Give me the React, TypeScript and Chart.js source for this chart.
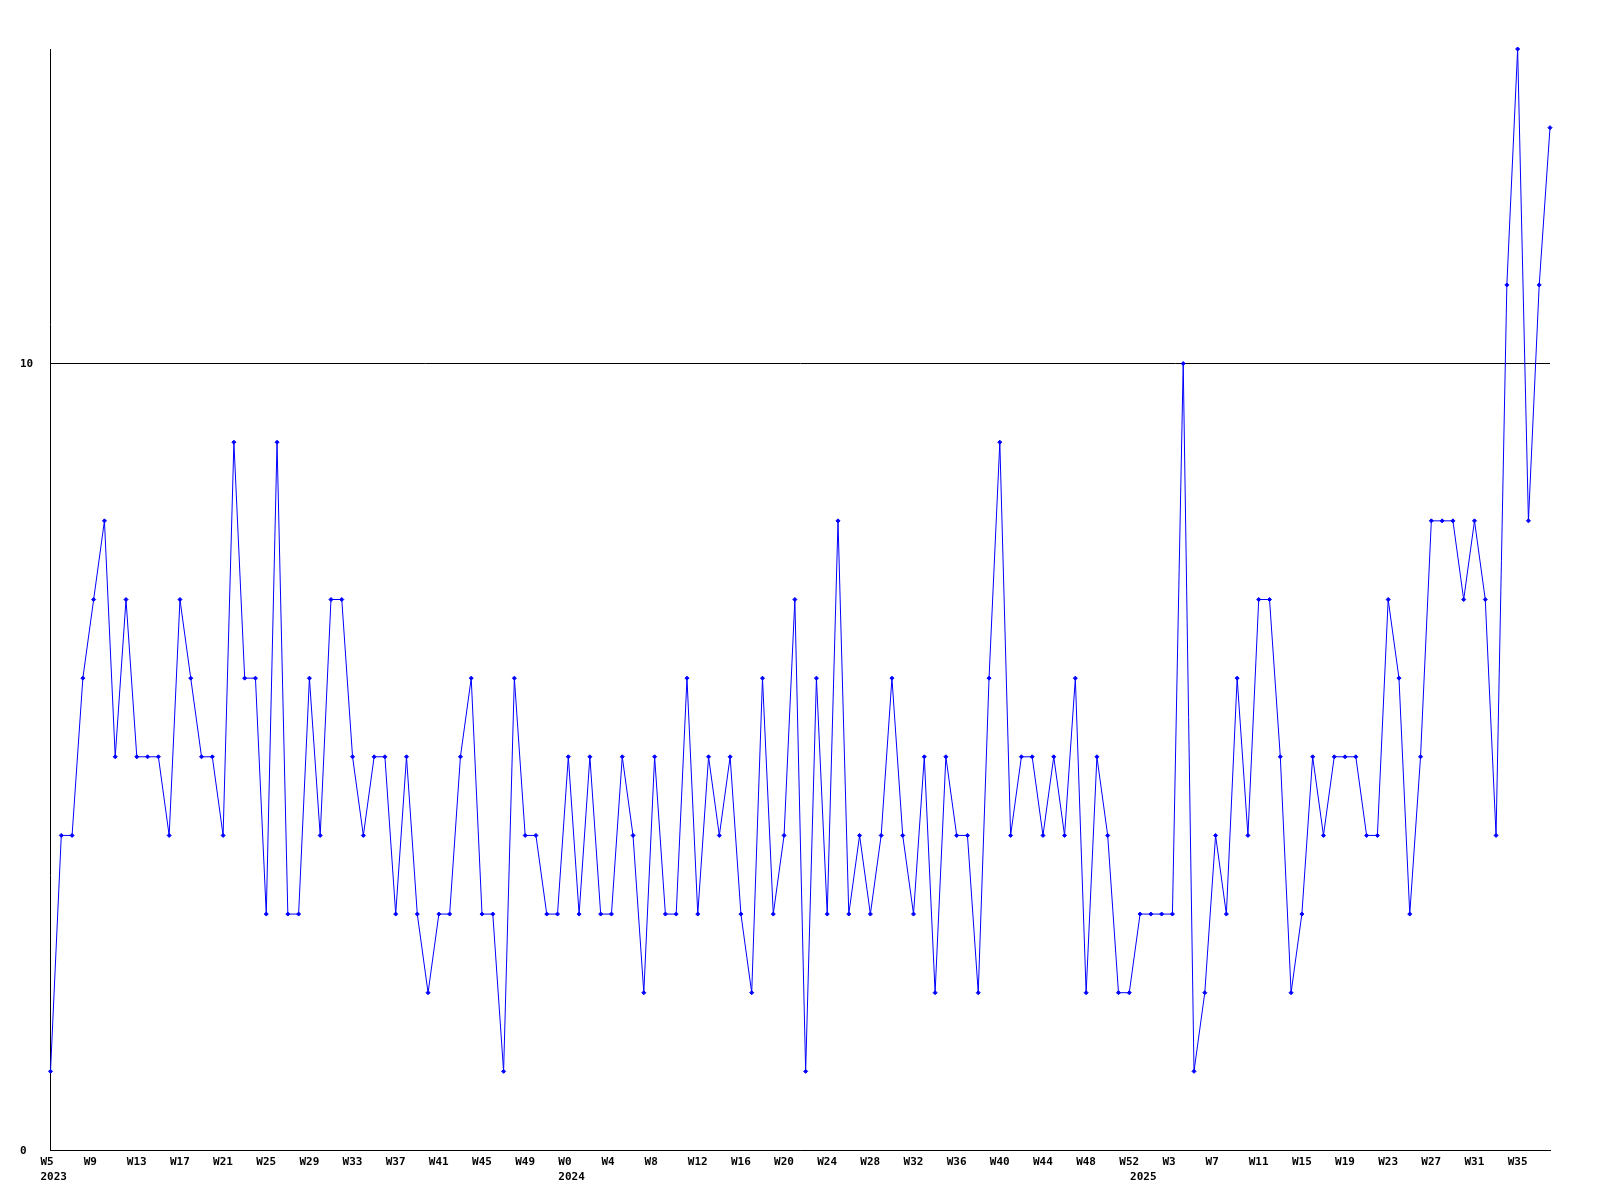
import React, { useEffect, useRef } from "react";
import { Chart, registerables } from "chart.js";

Chart.register(...registerables);

// Week ranges per year (week numbering as shown on the axis)
const years = [2023, 2024, 2025];
const firstWeeks = [5, 0, 0];
const lastWeeks = [52, 52, 38];

// Weekly values
const values2023 = [
  1, 4, 4, 6, 7, 8, 5, 7, 5, 5,
  5, 4, 7, 6, 5, 5, 4, 9, 6, 6,
  3, 9, 3, 3, 6, 4, 7, 7, 5, 4,
  5, 5, 3, 5, 3, 2, 3, 3, 5, 6,
  3, 3, 1, 6, 4, 4, 3, 3,
];
const values2024 = [
  5, 3,
  5, 3, 3, 5, 4, 2, 5, 3, 3, 6,
  3, 5, 4, 5, 3, 2, 6, 3, 4, 7,
  1, 6, 3, 8, 3, 4, 3, 4, 6, 4,
  3, 5, 2, 5, 4, 4, 2, 6, 9, 4,
  5, 5, 4, 5, 4, 6, 2, 5, 4, 2,
  2,
];
const values2025 = [
  3, 3, 3, 3, 10, 1, 2, 4, 3,
  6, 4, 7, 7, 5, 2, 3, 5, 4, 5,
  5, 5, 4, 4, 7, 6, 3, 5, 8, 8,
  8, 7, 8, 7, 4, 11, 14, 8, 11, 13,
];

const yTicks = [0, 10];
const yMin = 0;
const yMax = 14;
const labelEvery = 4;

const FONT = "'DejaVu Sans Mono', 'Liberation Mono', monospace";

export default function App() {
  const ref = useRef<HTMLCanvasElement | null>(null);

  useEffect(() => {
    if (!ref.current) return;

    const weekNums: number[] = [];
    const weekYears: number[] = [];
    years.forEach((y, k) => {
      for (let w = firstWeeks[k]; w <= lastWeeks[k]; w++) {
        weekNums.push(w);
        weekYears.push(y);
      }
    });
    const categories = weekNums.map((w) => `W${w}`);
    const values = [...values2023, ...values2024, ...values2025];

    // tick label text: every 4th week; year under the first week of each year
    const tickText: (string | string[])[] = categories.map((c, i) => {
      const showWeek = i % labelEvery === 0;
      const yearStart = i === 0 || weekYears[i] !== weekYears[i - 1];
      if (showWeek && yearStart) return [c, String(weekYears[i])];
      if (yearStart) return ["", String(weekYears[i])];
      if (showWeek) return c;
      return "";
    });

    const chart = new Chart(ref.current, {
      type: "line",
      data: {
        labels: categories,
        datasets: [
          {
            data: values,
            borderColor: "#0000ff",
            backgroundColor: "#0000ff",
            borderWidth: 1,
            pointStyle: "rectRot",
            pointRadius: 2,
            pointBorderWidth: 1,
            pointBackgroundColor: "#0000ff",
            pointBorderColor: "#0000ff",
            tension: 0,
            clip: false as any,
          },
        ],
      },
      options: {
        animation: false,
        responsive: false,
        devicePixelRatio: 1,
        layout: { padding: { left: 20, top: 49, right: 50, bottom: 0 } },
        plugins: {
          legend: { display: false },
          tooltip: { enabled: false },
          title: { display: false },
        },
        scales: {
          x: {
            type: "category",
            offset: false,
            grid: { display: false, drawTicks: false },
            border: { display: true, color: "#000", width: 1 },
            ticks: {
              autoSkip: false,
              maxRotation: 0,
              minRotation: 0,
              align: "start",
              labelOffset: -10,
              padding: 5,
              color: "#000",
              font: { family: FONT, size: 11, weight: "bold", lineHeight: 1.36 },
              callback: (_v: any, i: number) => tickText[i],
            },
            afterFit: (s: any) => {
              s.height = 50;
            },
          },
          y: {
            min: yMin,
            max: yMax,
            grid: { display: true, color: "#000", lineWidth: 1, drawTicks: false },
            border: { display: true, color: "#000", width: 1 },
            afterBuildTicks: (s: any) => {
              s.ticks = yTicks.map((v) => ({ value: v }));
            },
            ticks: {
              crossAlign: "far",
              padding: 0,
              labelOffset: 1,
              color: "#000",
              font: { family: FONT, size: 11, weight: "bold" },
            },
            afterFit: (s: any) => {
              s.width = 30.5;
            },
          },
        },
      },
    });
    return () => chart.destroy();
  }, []);

  return (
    <div
      style={{
        position: "fixed",
        left: 0,
        top: 0,
        width: 1600,
        height: 1200,
        background: "#fff",
      }}
    >
      <canvas ref={ref} width={1600} height={1200} style={{ width: 1600, height: 1200 }} />
    </div>
  );
}
